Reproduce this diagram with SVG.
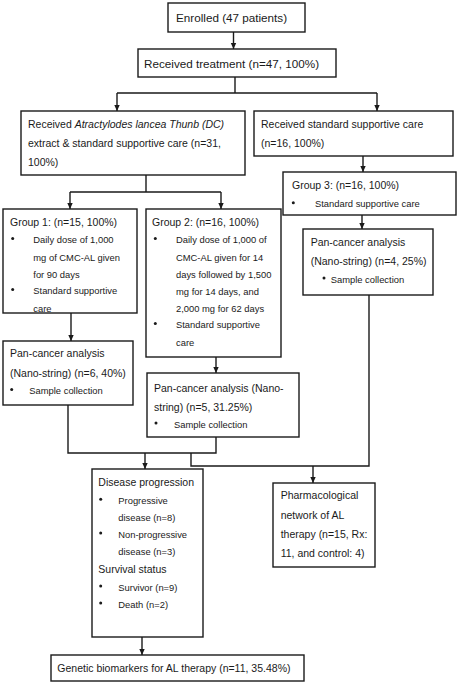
<svg xmlns="http://www.w3.org/2000/svg" width="459" height="685" viewBox="0 0 459 685">
<defs>
<marker id="arr" markerUnits="userSpaceOnUse" markerWidth="8" markerHeight="8" viewBox="0 0 8 8" refX="7" refY="4" orient="auto">
<path d="M1,1.3 L7,4 L1,6.7 Z" fill="#1a1a1a"/>
</marker>
<style>
rect{fill:#fff;stroke:#1a1a1a;stroke-width:1.4}
text{font-family:"Liberation Sans",Arial,sans-serif;fill:#1a1a1a}
.t1{font-size:11.7px}
.h{font-size:10.5px}
.b{font-size:9.4px}
.dot{fill:#1a1a1a}
#connectors path,#connectors line{fill:none;stroke:#1a1a1a;stroke-width:1.4}
.a{marker-end:url(#arr)}
</style>
</defs>
<rect x="0" y="0" width="459" height="685" style="fill:#fff;stroke:none"/>
<g id="connectors">
<line class="a" x1="233.5" y1="32" x2="233.5" y2="49"/>
<path d="M235,77 V93 M117,93 H377"/>
<line class="a" x1="117" y1="93" x2="117" y2="111"/>
<line class="a" x1="377" y1="93" x2="377" y2="111"/>
<path d="M146,175 V192 M70,192 H221"/>
<line class="a" x1="70" y1="192" x2="70" y2="209"/>
<line class="a" x1="221" y1="192" x2="221" y2="209"/>
<line class="a" x1="363" y1="156" x2="363" y2="172"/>
<line class="a" x1="362" y1="215" x2="362" y2="229"/>
<line class="a" x1="71" y1="313" x2="71" y2="341"/>
<line class="a" x1="216" y1="357" x2="216" y2="373"/>
<path d="M68,405 V453 H216 V437"/>
<line class="a" x1="145" y1="453" x2="145" y2="469"/>
<path d="M191,453 V466 H369 V295"/>
<line class="a" x1="313" y1="466" x2="313" y2="483"/>
<line class="a" x1="142" y1="637" x2="142" y2="655"/>
</g>
<g id="enrolled">
<rect x="168" y="3" width="137" height="29"/>
<text class="t1" x="176" y="21.5">Enrolled (47 patients)</text>
</g>
<g id="treatment">
<rect x="138" y="49" width="198" height="28"/>
<text class="t1" x="144" y="67.5">Received treatment (n=47, 100%)</text>
</g>
<g id="al-arm">
<rect x="21" y="111" width="224" height="64"/>
<text class="h" x="28" y="127.8">Received <tspan font-style="italic">Atractylodes lancea Thunb (DC)</tspan></text>
<text class="h" x="28" y="147.1">extract &amp; standard supportive care (n=31,</text>
<text class="h" x="28" y="166.4">100%)</text>
</g>
<g id="ssc-arm">
<rect x="254" y="111" width="199" height="45"/>
<text class="h" x="261" y="127.8">Received standard supportive care</text>
<text class="h" x="261" y="147.1">(n=16, 100%)</text>
</g>
<g id="group1">
<rect x="3" y="209" width="134" height="104"/>
<text class="h" x="10" y="226">Group 1: (n=15, 100%)</text>
<circle class="dot" cx="12.7" cy="238.6" r="1.5"/>
<text class="b" x="33.3" y="243.3">Daily dose of 1,000</text>
<text class="b" x="33.3" y="260.5">mg of CMC-AL given</text>
<text class="b" x="33.3" y="277.6">for 90 days</text>
<circle class="dot" cx="12.7" cy="289.6" r="1.5"/>
<text class="b" x="33.3" y="294.3">Standard supportive</text>
<text class="b" x="33.3" y="311.5">care</text>
</g>
<g id="group2">
<rect x="146" y="209" width="135" height="148"/>
<text class="h" x="152" y="226">Group 2: (n=16, 100%)</text>
<circle class="dot" cx="155.3" cy="238.6" r="1.5"/>
<text class="b" x="176" y="243.3">Daily dose of 1,000 of</text>
<text class="b" x="176" y="260.5">CMC-AL given for 14</text>
<text class="b" x="176" y="277.6">days followed by 1,500</text>
<text class="b" x="176" y="294.5">mg for 14 days, and</text>
<text class="b" x="176" y="311.5">2,000 mg for 62 days</text>
<circle class="dot" cx="155.3" cy="323.6" r="1.5"/>
<text class="b" x="176" y="328.4">Standard supportive</text>
<text class="b" x="176" y="345.6">care</text>
</g>
<g id="group3">
<rect x="283" y="172" width="173" height="43"/>
<text class="h" x="292" y="188.8">Group 3: (n=16, 100%)</text>
<circle class="dot" cx="293.3" cy="202.8" r="1.5"/>
<text class="b" x="315" y="207.4">Standard supportive care</text>
</g>
<g id="pan3">
<rect x="303" y="229" width="130" height="66"/>
<text class="h" x="310.7" y="246.4">Pan-cancer analysis</text>
<text class="h" x="310.7" y="265.4">(Nano-string) (n=4, 25%)</text>
<circle class="dot" cx="324" cy="278" r="1.5"/>
<text class="b" x="330.7" y="282.6">Sample collection</text>
</g>
<g id="pan1">
<rect x="3" y="341" width="130" height="64"/>
<text class="h" x="10" y="357.4">Pan-cancer analysis</text>
<text class="h" x="10" y="376.6">(Nano-string) (n=6, 40%)</text>
<circle class="dot" cx="11.7" cy="389.6" r="1.5"/>
<text class="b" x="29.3" y="394.3">Sample collection</text>
</g>
<g id="pan2">
<rect x="147" y="373" width="152" height="64"/>
<text class="h" x="154" y="392">Pan-cancer analysis (Nano-</text>
<text class="h" x="154" y="410.7">string) (n=5, 31.25%)</text>
<circle class="dot" cx="156" cy="422.9" r="1.5"/>
<text class="b" x="174" y="427.6">Sample collection</text>
</g>
<g id="outcomes">
<rect x="92" y="469" width="111" height="168"/>
<text class="h" x="98.3" y="486">Disease progression</text>
<circle class="dot" cx="100.7" cy="499.3" r="1.5"/>
<text class="b" x="118.3" y="504">Progressive</text>
<text class="b" x="118.3" y="521">disease (n=8)</text>
<circle class="dot" cx="100.7" cy="532.9" r="1.5"/>
<text class="b" x="118.3" y="537.6">Non-progressive</text>
<text class="b" x="118.3" y="555">disease (n=3)</text>
<text class="h" x="98.3" y="573">Survival status</text>
<circle class="dot" cx="100.7" cy="585.9" r="1.5"/>
<text class="b" x="118.3" y="590.6">Survivor (n=9)</text>
<circle class="dot" cx="100.7" cy="602.9" r="1.5"/>
<text class="b" x="118.3" y="607.6">Death (n=2)</text>
</g>
<g id="pharma">
<rect x="273" y="483" width="102" height="84"/>
<text class="h" x="280.7" y="499.4">Pharmacological</text>
<text class="h" x="280.7" y="518.7">network of AL</text>
<text class="h" x="280.7" y="538">therapy (n=15, Rx:</text>
<text class="h" x="280.7" y="557">11, and control: 4)</text>
</g>
<g id="biomarkers">
<rect x="51" y="655" width="253" height="26"/>
<text class="h" x="57.3" y="672">Genetic biomarkers for AL therapy (n=11, 35.48%)</text>
</g>
</svg>
